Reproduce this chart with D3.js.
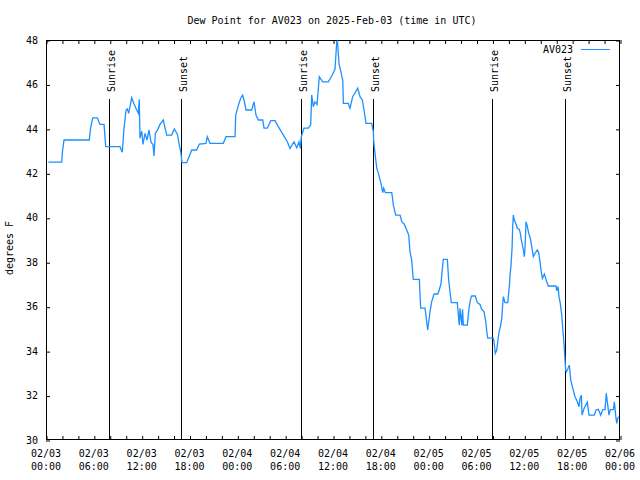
<!DOCTYPE html>
<html><head><meta charset="utf-8">
<script src="https://cdn.jsdelivr.net/npm/d3@7"></script>
<style>
body{margin:0;background:#fff;}
text{font-family:"DejaVu Sans Mono",monospace;font-size:10px;fill:#000;}
</style></head><body>
<svg id="c" width="640" height="480"></svg>
<script>
// hours since 2025-02-03 00:00 UTC
const hours = [0.29,1.97,2.07,2.26,5.43,5.58,5.86,6.44,6.77,7.28,7.49,9.28,9.57,9.78,10.04,10.20,10.37,10.75,10.95,11.38,11.58,11.70,11.79,12.00,12.17,12.42,12.67,12.92,13.17,13.42,13.55,13.71,14.05,14.30,14.71,15.14,15.77,16.09,16.47,16.72,16.90,17.06,17.65,17.94,18.28,18.90,19.23,
20.07,20.23,20.57,22.24,22.58,23.71,23.80,24.08,24.42,24.67,24.84,25.09,25.80,26.09,26.34,26.63,27.18,27.35,27.76,28.19,28.73,29.14,29.77,30.27,30.61,31.11,31.45,31.74,31.90,32.03,32.36,32.90,33.20,33.33,33.53,33.74,34.00,34.28,34.71,35.41,35.88,36.25,36.47,36.56,36.75,37.22,37.30,37.92,38.13,38.47,39.10,39.39,39.68,39.89,40.14,40.86,40.93,41.06,41.11,41.27,41.49,41.69,42.02,42.24,42.36,42.56,43.37,43.44,43.57,43.87,44.41,44.62,44.91,45.16,45.50,45.66,45.87,46.07,46.83,46.91,47.00,47.54,47.63,47.88,48.04,48.17,48.38,48.67,49.13,49.33,49.55,49.76,49.84,50.34,50.51,50.68,50.84,51.59,51.77,51.84,51.93,52.15,52.25,52.35,52.85,53.06,53.28,53.40,53.85,54.10,54.44,54.65,54.94,55.16,55.32,55.41,56.11,56.20,56.36,56.54,56.66,56.83,57.04,57.17,57.29,57.37,57.58,57.92,57.99,58.12,58.20,58.33,58.46,58.54,58.62,58.74,58.92,59.12,59.37,59.50,59.62,59.87,60.00,60.09,60.21,60.34,60.55,60.75,60.93,61.13,61.34,61.63,61.80,61.97,62.09,62.26,62.51,62.81,63.01,63.97,64.06,64.23,64.35,64.51,64.69,64.82,64.98,65.07,65.19,65.27,65.44,65.64,65.82,65.98,66.19,66.36,66.65,66.86,66.99,67.15,67.24,67.49,67.90,68.11,68.78,68.99,69.28,69.58,69.83,70.12,70.28,70.41,70.62,70.79,71.17,71.29,71.50,71.59,71.71,71.84];
const dewpoint = [42.5,42.5,43.0,43.5,43.5,44.0,44.5,44.5,44.2,44.2,43.2,43.2,42.95,44.0,44.85,44.9,44.7,45.4,45.2,44.85,44.7,45.33,43.58,43.9,43.3,43.8,43.5,43.95,43.4,43.3,42.78,43.8,44.0,44.2,44.4,43.72,43.72,44.0,43.77,43.28,42.97,42.48,42.48,42.75,43.05,43.05,43.32,
43.35,43.65,43.35,43.35,43.65,43.65,44.62,45.0,45.38,45.52,45.3,44.85,44.85,45.22,44.62,44.4,44.4,44.03,44.03,44.37,44.37,44.1,43.72,43.42,43.12,43.42,43.15,43.42,43.12,43.65,44.03,44.03,44.18,45.52,45.0,45.22,45.1,46.35,46.12,46.12,46.4,46.68,47.92,47.95,46.95,46.2,45.15,45.15,44.92,45.45,45.83,45.45,45.3,44.85,44.25,44.25,44.1,43.88,43.42,42.9,42.23,42.0,41.55,41.13,41.33,41.13,41.13,40.95,40.57,40.12,40.12,39.82,39.72,39.53,39.22,38.47,38.1,37.23,37.23,36.6,35.93,35.93,35.7,34.95,35.4,35.78,36.23,36.57,36.57,36.75,37.05,37.87,38.13,38.13,37.2,36.67,36.18,36.18,35.43,35.17,35.93,35.17,35.88,35.17,35.17,35.93,36.38,36.48,36.48,36.18,36.1,35.88,35.78,35.33,34.8,34.58,34.58,34.42,33.9,34.05,34.42,34.87,35.17,35.47,36.12,36.45,36.18,36.18,36.45,36.9,37.38,37.87,38.63,39.6,40.12,39.9,39.75,39.53,39.48,39.3,39.0,38.58,38.25,38.63,39.82,39.67,39.3,39.08,38.7,38.25,38.4,38.55,38.43,38.02,37.65,37.27,37.47,37.12,36.93,36.93,36.72,36.9,36.45,36.15,35.62,35.02,34.32,33.75,33.15,33.07,33.18,33.37,32.7,32.47,32.17,31.95,31.72,31.5,31.87,32.02,31.12,31.42,31.7,31.12,31.12,31.35,31.38,31.12,31.37,31.37,32.1,31.72,31.12,31.37,31.37,31.72,30.97,30.75,30.97,31.05];
const sunEvents = [{h:7.95,label:"Sunrise"},{h:16.97,label:"Sunset"},{h:32.0,label:"Sunrise"},{h:41.0,label:"Sunset"},{h:56.0,label:"Sunrise"},{h:65.12,label:"Sunset"}];
const yTicks = [30,32,34,36,38,40,42,44,46,48];
const title = "Dew Point for AV023 on 2025-Feb-03 (time in UTC)";
const seriesName = "AV023";
const yLabel = "degrees F";

const t0 = Date.UTC(2025,1,3,0,0);
const toDate = h => new Date(t0 + h*3600000);
const L=46, R=620, T=40, B=440;
const svg = d3.select("#c");
const x = d3.scaleUtc().domain([toDate(0), toDate(72)]).range([L,R]);
const y = d3.scaleLinear().domain([30,48]).range([B,T]);
const col = "#1e90ff";

// frame
svg.append("rect").attr("x",L+0.5).attr("y",T+0.5).attr("width",R-L-1).attr("height",B-T-1)
  .attr("fill","none").attr("stroke","#000");

const xTickVals = d3.range(0,73,2).map(toDate);
const fmtD = d3.utcFormat("%m/%d"), fmtT = d3.utcFormat("%H:%M");
const gx = svg.append("g").attr("transform",`translate(0,${B})`)
  .call(d3.axisBottom(x).tickValues(xTickVals).tickSize(-4).tickSizeOuter(0).tickFormat(""));
gx.select(".domain").remove();
gx.selectAll("line").attr("stroke","#000").attr("transform","translate(0.5,0)");
svg.append("g").attr("transform",`translate(0,${T})`)
  .call(d3.axisTop(x).tickValues(xTickVals).tickSize(-4).tickSizeOuter(0).tickFormat(""))
  .call(g=>{g.select(".domain").remove(); g.selectAll("line").attr("stroke","#000").attr("transform","translate(0.5,0)");});
const lab = svg.append("g");
d3.range(0,73,6).map(toDate).forEach(d=>{
  const t = lab.append("text").attr("text-anchor","middle").attr("x",x(d));
  t.append("tspan").attr("x",x(d)).attr("y",457).text(fmtD(d));
  t.append("tspan").attr("x",x(d)).attr("y",470).text(fmtT(d));
});

const gy = svg.append("g").attr("transform",`translate(${L},0)`)
  .call(d3.axisLeft(y).tickValues(yTicks).tickSize(-4).tickSizeOuter(0).tickPadding(8).tickFormat(d3.format("d")));
gy.select(".domain").remove();
gy.selectAll("line").attr("stroke","#000").attr("transform","translate(0,0.5)");
gy.selectAll("text").attr("font-family","DejaVu Sans Mono").attr("font-size",10).attr("x",-8);
svg.append("g").attr("transform",`translate(${R},0)`)
  .call(d3.axisRight(y).tickValues(yTicks).tickSize(-4).tickSizeOuter(0).tickFormat(""))
  .call(g=>{g.select(".domain").remove(); g.selectAll("line").attr("stroke","#000").attr("transform","translate(0,0.5)");});

// sun events
sunEvents.forEach(e=>{
  const xx = Math.round(x(toDate(e.h)))+0.5;
  svg.append("line").attr("x1",xx).attr("x2",xx).attr("y1",99).attr("y2",B).attr("stroke","#000");
  svg.append("text").attr("transform",`translate(${xx+5},92) rotate(-90)`).text(e.label);
});

// series
const pts = hours.map((h,i)=>({d:toDate(h),v:dewpoint[i]}));
svg.append("path").datum(pts).attr("fill","none").attr("stroke",col).attr("stroke-width",1.3)
  .attr("d",d3.line().x(p=>x(p.d)).y(p=>y(p.v)));

// legend
svg.append("text").attr("x",573).attr("y",53).attr("text-anchor","end").text(seriesName);
svg.append("line").attr("x1",581).attr("x2",610).attr("y1",49.5).attr("y2",49.5).attr("stroke",col);

// title & y label
svg.append("text").attr("x",332).attr("y",24).attr("text-anchor","middle").text(title);
svg.append("text").attr("transform","translate(13,248) rotate(-90)").attr("text-anchor","middle").text(yLabel);
</script></body></html>
